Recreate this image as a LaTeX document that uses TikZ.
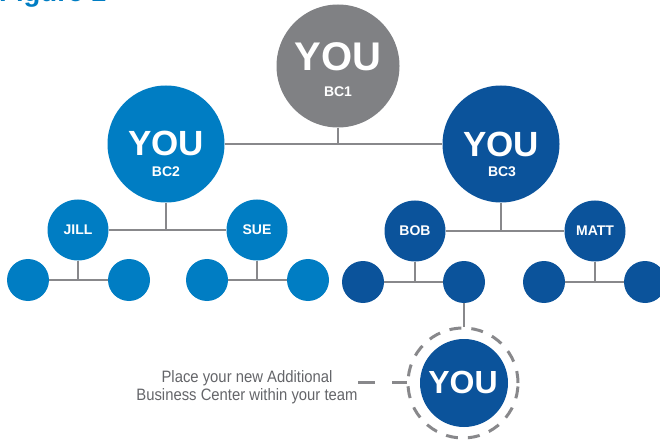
\documentclass[tikz,border=0pt]{standalone}
\usepackage{fontspec}
\setmainfont{Liberation Sans}
\newfontfamily\condfont[FakeStretch=0.9]{Liberation Sans}
\definecolor{lblue}{HTML}{007DC3}
\definecolor{dblue}{HTML}{0B539B}
\definecolor{cgray}{HTML}{808184}
\definecolor{lgray}{HTML}{88888B}
\definecolor{tgray}{HTML}{646569}
\begin{document}
\begin{tikzpicture}[x=1pt,y=-1pt,
  circ/.style={circle, inner sep=0pt, minimum size=#1, draw=none},
  conn/.style={draw=lgray, line width=2.2pt},
  dashline/.style={draw=lgray, line width=3pt, dash pattern=on 17pt off 17pt},
  ring/.style={circle, inner sep=0pt, minimum size=#1, draw=lgray, line width=3pt, dash pattern=on 12pt off 10pt},
  bigtxt/.style={text=white, font=\bfseries\fontsize{#1}{#1}\selectfont, anchor=base, inner sep=0pt},
  smalltxt/.style={text=white, font=\bfseries\fontsize{14}{14}\selectfont, anchor=base, inner sep=0pt},
  notetxt/.style={text=tgray, font=\condfont\fontsize{16.5}{18}\selectfont, anchor=base, inner sep=0pt},
]
\useasboundingbox (0,0) rectangle (660,443);
\clip (0,0) rectangle (660,443);

% title (cut off at top)
\node[anchor=base west, inner sep=0pt, text=lblue, font=\bfseries\fontsize{27.5}{30}\selectfont] (title) at (-1,1.5) {Figure 1};

% main circles
\node[circ=123, fill=cgray] (bc1) at (338,66) {};
\node[circ=117, fill=lblue] (bc2) at (166,144) {};
\node[circ=117, fill=dblue] (bc3) at (501,144) {};

\node[circ=61, fill=lblue] (jill) at (78,230) {};
\node[circ=61, fill=lblue] (sue) at (257,230) {};
\node[circ=61, fill=dblue] (bob) at (415,231) {};
\node[circ=61, fill=dblue] (matt) at (595,231) {};

\node[circ=42, fill=lblue] (l1) at (28,280) {};
\node[circ=42, fill=lblue] (l2) at (129,280) {};
\node[circ=42, fill=lblue] (l3) at (207,280) {};
\node[circ=42, fill=lblue] (l4) at (308,280) {};
\node[circ=42, fill=dblue] (l5) at (363,282) {};
\node[circ=42, fill=dblue] (l6) at (464,282) {};
\node[circ=42, fill=dblue] (l7) at (544,282) {};
\node[circ=42, fill=dblue] (l8) at (645,282) {};

\node[ring=110] (dash) at (463,383) {};
\node[circ=88, fill=dblue] (you4) at (464,383) {};

% connectors
\draw[conn] (bc2) -- (bc3);
\draw[conn] (bc1.south) -- (bc1.south |- bc2.center);
\draw[conn] (jill) -- (sue);
\draw[conn] (bc2.south) -- (bc2.south |- jill.center);
\draw[conn] (bob) -- (matt);
\draw[conn] (bc3.south) -- (bc3.south |- bob.center);
\draw[conn] (l1) -- (l2);
\draw[conn] (jill.south) -- (jill.south |- l1.center);
\draw[conn] (l3) -- (l4);
\draw[conn] (sue.south) -- (sue.south |- l3.center);
\draw[conn] (l5) -- (l6);
\draw[conn] (bob.south) -- (bob.south |- l5.center);
\draw[conn] (l7) -- (l8);
\draw[conn] (matt.south) -- (matt.south |- l7.center);
\draw[conn] (l6.south) -- (l6.south |- dash.north);

% texts
\node[bigtxt=40] (t1) at (338,71) {YOU};
\node[smalltxt] (t1b) at (338,96.5) {BC1};
\node[bigtxt=35] (t2) at (166,156) {YOU};
\node[smalltxt] (t2b) at (166,177) {BC2};
\node[bigtxt=35] (t3) at (501,157) {YOU};
\node[smalltxt] (t3b) at (502,177) {BC3};
\node[smalltxt] (tj) at (78,235) {JILL};
\node[smalltxt] (ts) at (257,235) {SUE};
\node[smalltxt] (tb) at (415,236) {BOB};
\node[smalltxt] (tm) at (595,236) {MATT};
\node[bigtxt=32] (t4) at (463,393) {YOU};

% note
\node[notetxt] (note1) at (247,382) {Place your new Additional};
\node[notetxt] (note2) at (247,400) {Business Center within your team};
\coordinate (noteend) at (358,382);
\draw[dashline] (noteend) -- (dash.west |- noteend);
\end{tikzpicture}
\end{document}
